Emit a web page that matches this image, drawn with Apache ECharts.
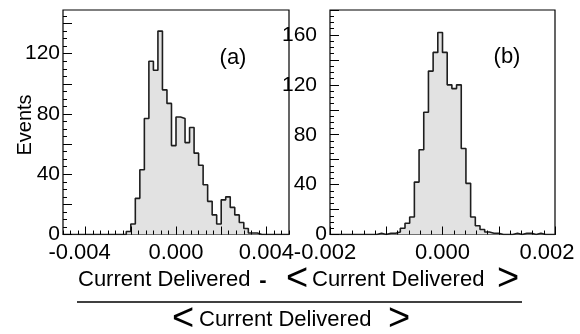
<!DOCTYPE html>
<html><head><meta charset="utf-8">
<script src="https://cdn.jsdelivr.net/npm/echarts@6/dist/echarts.min.js"></script>
<style>html,body{margin:0;padding:0;background:#fff}#c{width:580px;height:334px}</style>
</head><body><div id="c"></div>
<script>
// ---------- data ----------
// Panel (a): 50 bins of width 0.0002 from -0.005 to 0.005
const binMinA = -0.005;
const binWidthA = 0.0002;
const countsA = [0,0,0,0,0,0,0,0,0,0,0,0,0,0,
  2,7,24,43,77,115,109,135,96,87,59,78,77,61,71,54,46,33,22,13,7,23,25,18,13,8,4,1,1,
  0,0,0,0,0,0,0];
// Panel (b): 48 bins from -0.002 to 0.002
const binMinB = -0.002;
const binWidthB = 0.004 / 48;
const countsB = [0,0,0,0,0,0,0,0,0,0,
  1,0,1,1,2,5,9,14,42,68,98,131,146,162,146,120,117,120,69,41,14,7,4,2,1,1,0,0,0,1,0,1,1,0,1,
  0,0,0];
// tick labels
const xLabelsA = [-0.004, 0, 0.004];
const yLabelsA = [0, 40, 80, 120];
const xLabelsB = [-0.002, 0, 0.002];
const yLabelsB = [0, 40, 80, 120, 160];
const panelTags = ['(a)', '(b)'];
const yTitle = 'Events';
const xTitle = 'Current Delivered';

// ---------- helpers ----------
function stepData(min, width, counts) {
  const d = counts.map((c, i) => [min + i * width, c]);
  d.push([min + counts.length * width, counts[counts.length - 1]]);
  return d;
}
function seq(n0, n1, step) { const r = []; for (let i = n0; i <= n1; i++) r.push(+(i * step).toFixed(9)); return r; }

const FONT = '"Liberation Sans", Arial, Helvetica, sans-serif';
const fmtX = v => (Math.abs(v) < 1e-12 ? '0.000' : v.toFixed(3));

function tickAxis(gridIndex, pos, min, max, ticks, len, extra) {
  return Object.assign({
    type: 'value', gridIndex, position: pos, min, max, z: 5,
    axisLine: { show: false, onZero: false }, splitLine: { show: false },
    axisTick: { show: true, inside: true, length: len, customValues: ticks, lineStyle: { color: '#000', width: 1 } },
    axisLabel: { show: false }
  }, extra || {});
}

const chart = echarts.init(document.getElementById('c'), null, { renderer: 'canvas', width: 580, height: 334 });

const option = {
  animation: false,
  backgroundColor: '#fff',
  grid: [
    { left: 63, top: 10, width: 226, height: 224.5, show: true, borderColor: '#000', borderWidth: 1.2, backgroundColor: 'transparent' },
    { left: 330, top: 10, width: 225, height: 224.5, show: true, borderColor: '#000', borderWidth: 1.2, backgroundColor: 'transparent' }
  ],
  xAxis: [
    tickAxis(0, 'bottom', -0.005, 0.005, [-0.004, -0.002, 0, 0.002, 0.004], 8, {
      axisLabel: { show: true, customValues: xLabelsA, margin: 7, fontSize: 22, fontFamily: FONT, color: '#000',
        formatter: v => v < 0 ? '{n|' + fmtX(v) + '}' : fmtX(v),
        rich: { n: { fontSize: 22, fontFamily: FONT, color: '#000', padding: [0, 12, 0, 0] } } }
    }),
    tickAxis(0, 'bottom', -0.005, 0.005, seq(-15, 15, 0.001 / 3), 4),
    tickAxis(1, 'bottom', -0.002, 0.002, [-0.002, -0.001, 0, 0.001, 0.002], 8, {
      axisLabel: { show: true, customValues: xLabelsB, margin: 7, fontSize: 22, fontFamily: FONT, color: '#000',
        formatter: v => v < 0 ? '{n|' + fmtX(v) + '}' : (v > 0 ? '{p|' + fmtX(v) + '}' : fmtX(v)),
        rich: { n: { fontSize: 22, fontFamily: FONT, color: '#000', padding: [0, 10, 0, 0] },
                p: { fontSize: 22, fontFamily: FONT, color: '#000', padding: [0, 16, 0, 0] } } }
    }),
    tickAxis(1, 'bottom', -0.002, 0.002, seq(-10, 10, 0.0002), 4)
  ],
  yAxis: [
    tickAxis(0, 'left', 0, 149, seq(0, 7, 20), 9, {
      axisLabel: { show: true, customValues: yLabelsA, margin: 3, fontSize: 21, fontFamily: FONT, color: '#000' }
    }),
    tickAxis(0, 'left', 0, 149, seq(0, 29, 5), 4),
    tickAxis(1, 'left', 0, 180, seq(0, 9, 20), 9, {
      axisLabel: { show: true, customValues: yLabelsB, margin: 3, fontSize: 21, fontFamily: FONT, color: '#000',
        formatter: v => v === 0 ? '0' : '{o|' + v + '}',
        rich: { o: { fontSize: 21, fontFamily: FONT, color: '#000', padding: [0, 10, 0, 0] } } }
    }),
    tickAxis(1, 'left', 0, 180, seq(0, 36, 5), 4)
  ],
  series: [
    { type: 'line', xAxisIndex: 0, yAxisIndex: 0, step: 'end', symbol: 'none', z: 2,
      data: stepData(binMinA, binWidthA, countsA),
      lineStyle: { color: '#1e1e1e', width: 1.6 }, areaStyle: { color: '#e2e2e2', opacity: 1 } },
    { type: 'line', xAxisIndex: 2, yAxisIndex: 2, step: 'end', symbol: 'none', z: 2,
      data: stepData(binMinB, binWidthB, countsB),
      lineStyle: { color: '#1e1e1e', width: 1.6 }, areaStyle: { color: '#e2e2e2', opacity: 1 } }
  ],
  graphic: { elements: [
    { type: 'text', x: 25, y: 125, rotation: Math.PI / 2,
      style: { text: yTitle, font: '20px ' + FONT, fill: '#000', textAlign: 'center', textVerticalAlign: 'middle', verticalAlign: 'middle' } },
    { type: 'text', x: 233, y: 58,
      style: { text: panelTags[0], font: '22px ' + FONT, fill: '#000', textAlign: 'center', textVerticalAlign: 'middle', verticalAlign: 'middle' } },
    { type: 'text', x: 507, y: 57,
      style: { text: panelTags[1], font: '22px ' + FONT, fill: '#000', textAlign: 'center', textVerticalAlign: 'middle', verticalAlign: 'middle' } },
    // numerator
    { type: 'text', x: 78, y: 280,
      style: { text: xTitle, font: '22px ' + FONT, fill: '#000', textAlign: 'left', textVerticalAlign: 'middle', verticalAlign: 'middle' } },
    { type: 'text', x: 263, y: 281,
      style: { text: '-', font: 'bold 22px ' + FONT, fill: '#000', textAlign: 'center', textVerticalAlign: 'middle', verticalAlign: 'middle' } },
    { type: 'text', x: 297, y: 280,
      style: { text: '<', font: '38px ' + FONT, fill: '#000', textAlign: 'center', textVerticalAlign: 'middle', verticalAlign: 'middle' } },
    { type: 'text', x: 312, y: 280,
      style: { text: xTitle, font: '22px ' + FONT, fill: '#000', textAlign: 'left', textVerticalAlign: 'middle', verticalAlign: 'middle' } },
    { type: 'text', x: 508, y: 280,
      style: { text: '>', font: '38px ' + FONT, fill: '#000', textAlign: 'center', textVerticalAlign: 'middle', verticalAlign: 'middle' } },
    // fraction bar
    { type: 'line', shape: { x1: 77, y1: 302, x2: 522, y2: 302 }, style: { stroke: '#000', lineWidth: 1.5 } },
    // denominator
    { type: 'text', x: 183, y: 320,
      style: { text: '<', font: '38px ' + FONT, fill: '#000', textAlign: 'center', textVerticalAlign: 'middle', verticalAlign: 'middle' } },
    { type: 'text', x: 199, y: 320,
      style: { text: xTitle, font: '22px ' + FONT, fill: '#000', textAlign: 'left', textVerticalAlign: 'middle', verticalAlign: 'middle' } },
    { type: 'text', x: 399, y: 320,
      style: { text: '>', font: '38px ' + FONT, fill: '#000', textAlign: 'center', textVerticalAlign: 'middle', verticalAlign: 'middle' } }
  ] }
};
chart.setOption(option);
</script>
</body></html>
